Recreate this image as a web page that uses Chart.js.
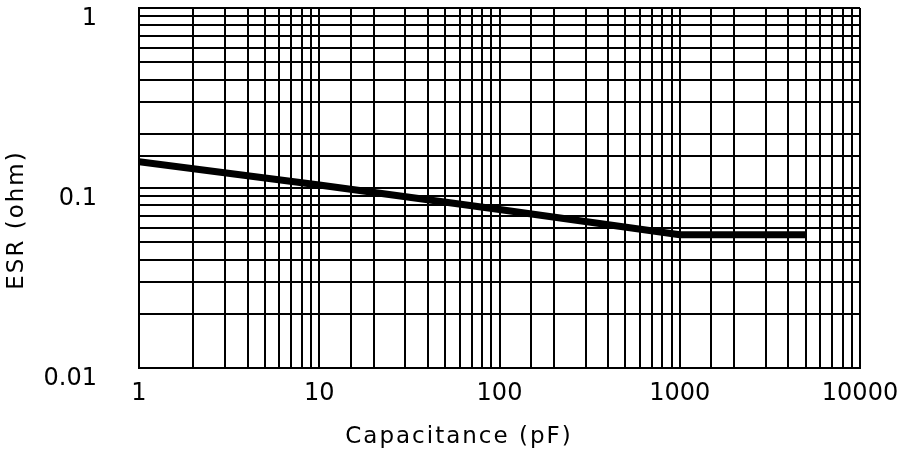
<!DOCTYPE html>
<html>
<head>
<meta charset="utf-8">
<script src="https://cdn.jsdelivr.net/npm/chart.js@4.4.1/dist/chart.umd.min.js"></script>
<style>
  body { margin: 0; background: #fff; }
  canvas { display: block; }
</style>
</head>
<body>
<canvas id="myChart" width="915" height="458"></canvas>
<script>
// dati
var capacita = [1, 10, 100, 1000, 5000];          // pF
var esr = [0.14, 0.104, 0.076, 0.055, 0.055];      // ohm

// etichette degli assi (solo decadi)
var xTickValori = [1, 10, 100, 1000, 10000];
var xTickTesti = ["1", "10", "100", "1000", "10000"];
var yTickValori = [0.01, 0.1, 1];
var yTickTesti = ["0.01", "0.1", "1"];

var titoloX = "Capacitance (pF)";
var titoloY = "ESR (ohm)";

var fontTick = { family: "DejaVu Sans", size: 24 };

function cercaEtichetta(valore, valori, testi) {
  for (var i = 0; i < valori.length; i++) {
    if (Math.abs(valore - valori[i]) / valori[i] < 1e-6) return testi[i];
  }
  return "";
}

var punti = [];
for (var i = 0; i < capacita.length; i++) {
  punti.push({ x: capacita[i], y: esr[i] });
}

// titoli degli assi disegnati a mano per metterli dove stanno nell'originale
var titoliAssi = {
  id: "titoliAssi",
  afterDraw: function(chart) {
    var ctx = chart.ctx;
    ctx.save();
    ctx.fillStyle = "#000";
    ctx.font = "23px 'DejaVu Sans'";
    ctx.textAlign = "center";
    ctx.textBaseline = "middle";
    ctx.letterSpacing = "2px";
    ctx.fillText(titoloX, 459, 437);
    ctx.translate(17, 220);
    ctx.rotate(-Math.PI / 2);
    ctx.fillText(titoloY, 0, 0);
    ctx.restore();
  }
};

var grafico = new Chart(document.getElementById("myChart"), {
  type: "line",
  data: {
    datasets: [{
      data: punti,
      borderColor: "#000",
      borderWidth: 7,
      pointRadius: 0,
      tension: 0,
      fill: false
    }]
  },
  options: {
    responsive: false,
    animation: false,
    layout: { padding: { top: 8, right: 55, left: 0, bottom: 0 } },
    plugins: { legend: { display: false }, tooltip: { enabled: false } },
    scales: {
      x: {
        type: "logarithmic",
        min: 1,
        max: 10000,
        grid: { color: "#000", lineWidth: 2, drawTicks: false },
        border: { color: "#000", width: 2 },
        ticks: {
          autoSkip: false,
          maxRotation: 0,
          padding: 11,
          color: "#000",
          font: fontTick,
          callback: function(v) { return cercaEtichetta(v, xTickValori, xTickTesti); }
        },
        afterFit: function(scale) {
          scale.height = 90;
          scale.paddingLeft = 0;
          scale.paddingRight = 0;
        }
      },
      y: {
        type: "logarithmic",
        min: 0.01,
        max: 1,
        grid: { color: "#000", lineWidth: 2, drawTicks: false },
        border: { color: "#000", width: 2 },
        ticks: {
          autoSkip: false,
          padding: 42,
          labelOffset: 11,
          color: "#000",
          font: fontTick,
          callback: function(v) { return cercaEtichetta(v, yTickValori, yTickTesti); }
        },
        afterFit: function(scale) {
          scale.width = 139;
          scale.paddingTop = 0;
          scale.paddingBottom = 0;
        }
      }
    }
  },
  plugins: [titoliAssi]
});
</script>
</body>
</html>
